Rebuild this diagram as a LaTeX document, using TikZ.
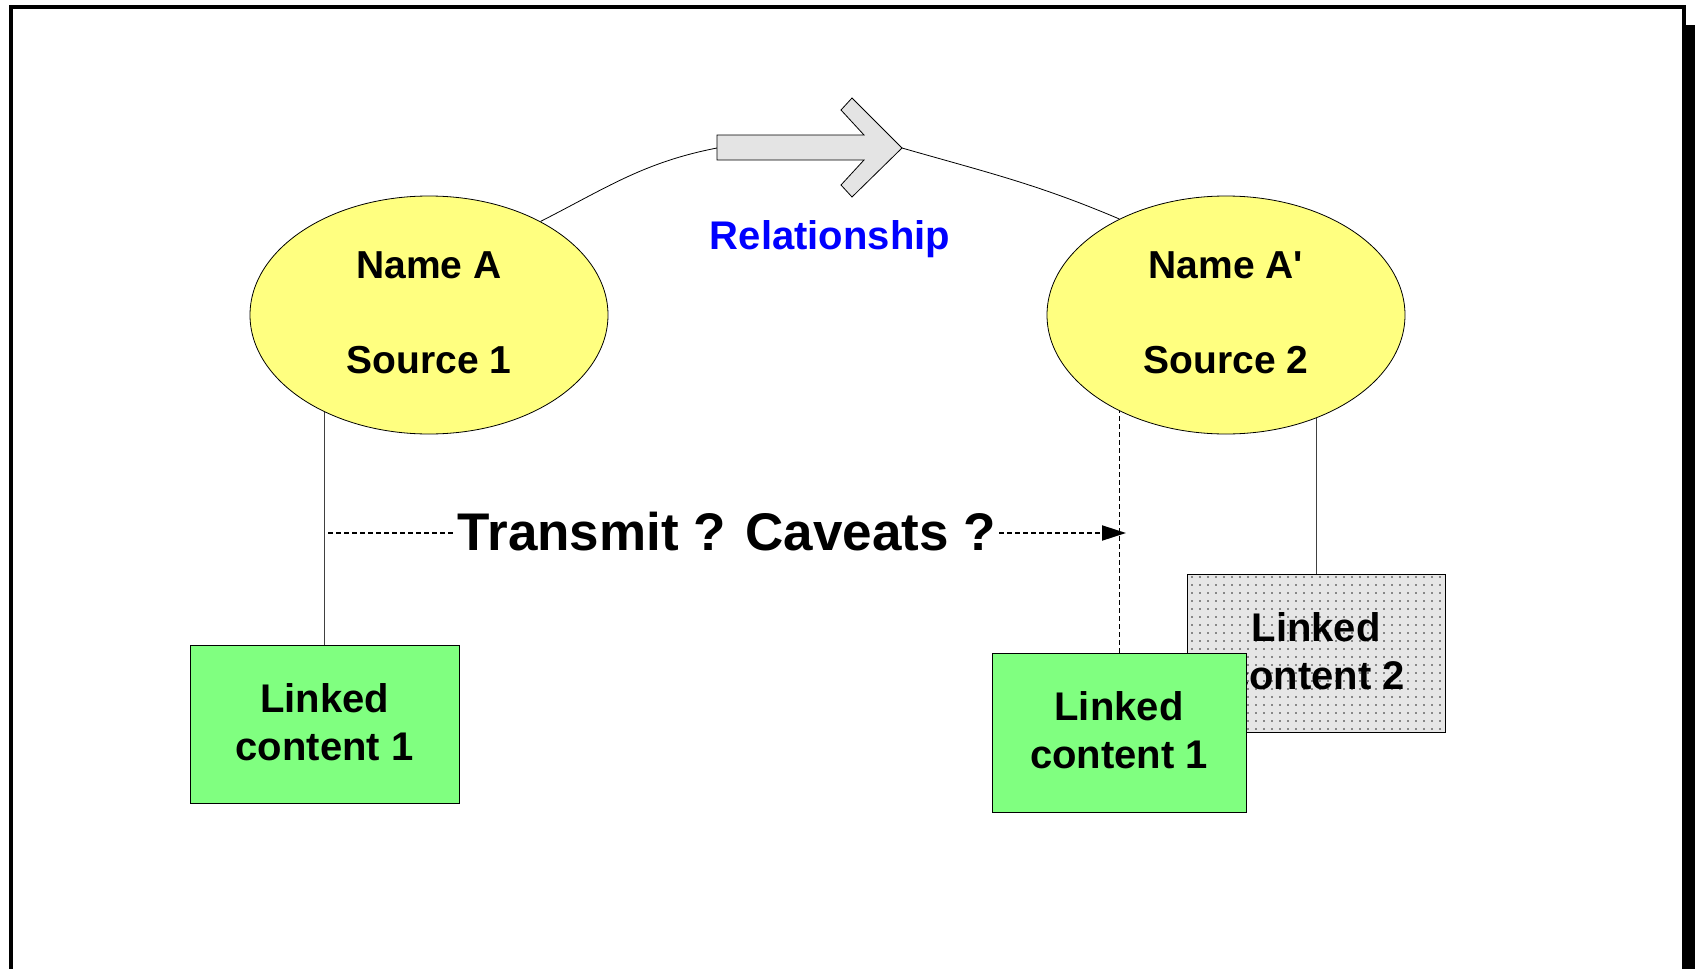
\documentclass[tikz,border=0pt]{standalone}
\usepackage{fontspec}
\newfontfamily\arialsub{Liberation Sans}
\usetikzlibrary{shapes.geometric,arrows.meta,patterns.meta}
\definecolor{ellfill}{HTML}{FFFF80}
\definecolor{boxgreen}{HTML}{80FF80}
\definecolor{arrowgray}{HTML}{E4E4E4}
\definecolor{dotbg}{HTML}{E6E6E6}
\definecolor{relblue}{HTML}{0000FF}
\pgfdeclarelayer{background}
\pgfsetlayers{background,main}
\newcommand{\liftup}[2]{\raisebox{2pt}[\height][\depth]{\parbox{#1}{\centering #2}}}
\begin{document}
\begin{tikzpicture}[x=1pt,y=1pt,
  ell/.style={ellipse,draw,line width=0.8pt,fill=ellfill,minimum width=358pt,minimum height=238pt,inner sep=0pt,align=center,font=\arialsub\fontsize{39}{47}\selectfont\bfseries},
  greenbox/.style={rectangle,draw,line width=1pt,fill=boxgreen,align=center,inner sep=0pt,font=\arialsub\fontsize{40}{48}\selectfont\bfseries},
  dotbox/.style={rectangle,draw,line width=1pt,fill=dotbg,align=center,inner sep=0pt,font=\arialsub\fontsize{40}{48}\selectfont\bfseries,
     postaction={pattern={Dots[distance=8pt,radius=0.9pt]},pattern color=black!85}},
  conn/.style={line width=1pt,draw=black!75},
  dashconn/.style={line width=1pt,draw=black,dash pattern=on 5pt off 3pt},
  dotline/.style={line width=2pt,draw=black,dash pattern=on 5pt off 3pt},
  arc/.style={line width=0.8pt,draw=black},
  bigarrow/.style={line width=0.8pt,draw=black,fill=arrowgray,line join=miter}
]
\useasboundingbox (0,0) rectangle (1695,-969);
\clip (0,0) rectangle (1695,-969);

% frame with shadow
\fill[black] (1686,-25) rectangle (1695,-969);
\draw[line width=4pt,line join=miter] (11,-969) -- (11,-7) -- (1684,-7) -- (1684,-969);

% content boxes
\node[dotbox,minimum width=258pt,minimum height=158pt] (b3) at (1316,-653) {\liftup{220pt}{Linked\\content 2}};
\node[greenbox,minimum width=254pt,minimum height=159pt] (b2) at (1119,-732.5) {\liftup{220pt}{Linked\\content 1}};
\node[greenbox,minimum width=269pt,minimum height=158pt] (b1) at (324.5,-724) {\liftup{220pt}{Linked\\content 1}};

% ellipses
\node[ell] (A) at (429,-315) {\liftup{180pt}{Name A\\[48pt]Source 1}};
\node[ell] (A2) at (1226,-315) {\liftup{180pt}{Name A'\\[48pt]Source 2}};

% relationship arrow
\coordinate (arL) at (717,-148);
\coordinate (arT) at (902,-148);
\draw[bigarrow] (717,-135) -- (864,-135) -- (841,-110) -- (852,-98) -- (arT) -- (852,-197) -- (841,-185) -- (864,-160) -- (717,-160) -- cycle;
\node[text=relblue,font=\arialsub\fontsize{40}{48}\selectfont\bfseries] (rel) at (830,-239) {Relationship};

% transmit label and dotted arrow
\node[font=\arialsub\fontsize{53}{62}\selectfont\bfseries,inner sep=3pt] (tc) at (727,-532) {Transmit ? Caveats ?};
\coordinate (dl) at (328,-533);
\coordinate (dr) at (1126,-533);
\draw[dotline] (dl) -- (tc.west |- dl);
\draw[dotline,-{Triangle[length=24pt,width=15pt]}] (tc.east |- dr) -- (dr);

\begin{pgfonlayer}{background}
\draw[arc] (A.40.6) to[out=27,in=191] (arL);
\draw[arc] (arT) to[out=-16,in=157] (A2.138.9);
\draw[conn] (b1.north) -- (b1.north |- A.center);
\draw[dashconn] (b2.north) -- (b2.north |- A2.center);
\draw[conn] (b3.north) -- (b3.north |- A2.center);
\end{pgfonlayer}
\end{tikzpicture}
\end{document}
